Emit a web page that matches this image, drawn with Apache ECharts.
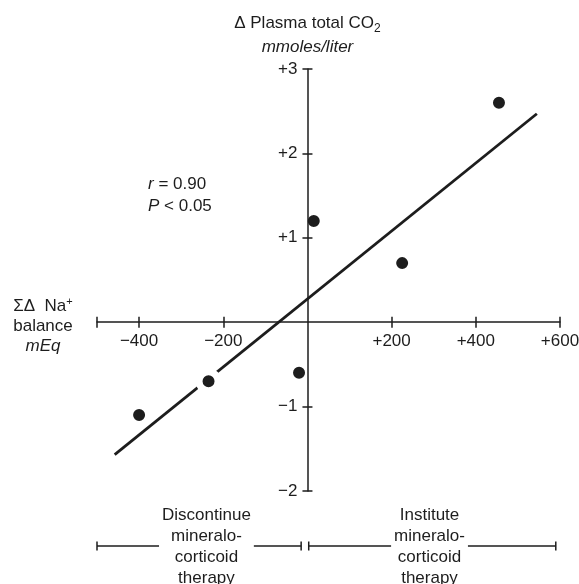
<!DOCTYPE html>
<html>
<head>
<meta charset="utf-8">
<script src="https://cdn.jsdelivr.net/npm/echarts@6/dist/echarts.min.js"></script>
<style>
  html, body { margin: 0; padding: 0; background: #fff; }
  #chart { width: 579px; height: 584px; }
</style>
</head>
<body>
<div id="chart"></div>
<script>
// Cumulative sodium balance (mEq) against change in plasma total CO2 (mmoles/liter)
const sodiumBalance = [-400, -235, -20, 15, 225, 455];
const plasmaCO2Change = [-1.1, -0.7, -0.6, 1.2, 0.7, 2.6];

// End points of the fitted regression line
const fitX = [-458, 545];
const fitY = [-1.57, 2.47];

// Axis extents, ticks and labelled values
const xRange = [-500, 600];
const yRange = [-2, 3];
const xTicks = [-500, -400, -200, 200, 400, 600];
const xTickLabels = [-400, -200, 200, 400, 600];
const yTicks = [-2, -1, 1, 2, 3];

// Therapy ranges along the sodium-balance axis (mEq)
const bracketStart = [-500, 3];
const bracketEnd = [-15, 590];
const bracketLabelAt = [-240, 290];
const bracketLabels = [
  'Discontinue\nmineralo-\ncorticoid\ntherapy',
  'Institute\nmineralo-\ncorticoid\ntherapy'
];

const statsText = '{i|r} = 0.90\n{i|P} < 0.05';

const ink = '#1d1d1d';
const fontFamily = '"Liberation Sans", Arial, sans-serif';
const fontSize = 17;

const signed = v => (v > 0 ? '+' + v : v < 0 ? '\u2212' + Math.abs(v) : '0');

const axisLineStyle = { color: ink, width: 1.5 };

const chart = echarts.init(document.getElementById('chart'));

function renderBracket(params, api) {
  const i = params.dataIndex;
  // brackets hang a fixed distance below the bottom of the vertical axis
  const y = api.coord([0, yRange[0]])[1] + 55;
  const x0 = api.coord([bracketStart[i], 0])[0];
  const x1 = api.coord([bracketEnd[i], 0])[0];
  const xc = api.coord([bracketLabelAt[i], 0])[0];
  const cap = 4.5;
  const st = { stroke: ink, lineWidth: 1.5 };
  return {
    type: 'group',
    children: [
      { type: 'line', shape: { x1: x0, y1: y, x2: x1, y2: y }, style: st },
      { type: 'line', shape: { x1: x0, y1: y - cap, x2: x0, y2: y + cap }, style: st },
      { type: 'line', shape: { x1: x1, y1: y - cap, x2: x1, y2: y + cap }, style: st },
      {
        type: 'text', x: xc, y: y + 1,
        style: {
          text: bracketLabels[i], align: 'center', verticalAlign: 'middle',
          font: fontSize + 'px ' + fontFamily, lineHeight: 21, fill: ink,
          backgroundColor: '#fff', padding: [0, 3]
        }
      }
    ]
  };
}

const richBase = { fontSize: fontSize, color: ink, fontFamily: fontFamily };

const option = {
  backgroundColor: '#fff',
  animation: false,
  textStyle: { fontFamily: fontFamily, color: ink },
  grid: { left: 97, right: 19, top: 69, bottom: 93, outerBoundsMode: 'none' },
  xAxis: [
    {
      type: 'value', min: xRange[0], max: xRange[1], position: 'bottom', z: 5,
      axisLine: { onZero: false, lineStyle: axisLineStyle },
      axisTick: { customValues: xTicks, length: 5.5, lineStyle: axisLineStyle },
      axisLabel: {
        customValues: xTickLabels, formatter: signed, margin: 11,
        color: ink, fontSize: fontSize, fontFamily: fontFamily
      },
      splitLine: { show: false },
      name: '{a|\u03a3\u0394  Na}{sup|+}\n{a|balance}\n{i|mEq}',
      nameLocation: 'start',
      nameGap: 54,
      nameTextStyle: {
        align: 'center', verticalAlign: 'middle', padding: [8, 0, 0, 0],
        rich: {
          a: Object.assign({ lineHeight: 20 }, richBase),
          sup: Object.assign({}, richBase, { fontSize: 11, lineHeight: 12, verticalAlign: 'top' }),
          i: Object.assign({ lineHeight: 20, fontStyle: 'italic' }, richBase)
        }
      }
    },
    {
      type: 'value', min: xRange[0], max: xRange[1], position: 'bottom', z: 5,
      axisLine: { show: false, onZero: false },
      axisTick: { inside: true, customValues: xTicks, length: 5.5, lineStyle: axisLineStyle },
      axisLabel: { show: false },
      splitLine: { show: false }
    }
  ],
  yAxis: [
    {
      type: 'value', min: yRange[0], max: yRange[1], position: 'left', z: 5,
      axisLine: { onZero: false, lineStyle: axisLineStyle },
      axisTick: { customValues: yTicks, length: 5, lineStyle: axisLineStyle },
      axisLabel: {
        customValues: yTicks, formatter: signed, margin: 10,
        color: ink, fontSize: fontSize, fontFamily: fontFamily
      },
      splitLine: { show: false },
      name: '{a|\u0394 Plasma total CO}{sub|2}\n{i|mmoles/liter}',
      nameLocation: 'end',
      nameGap: 10,
      nameTextStyle: {
        align: 'center', verticalAlign: 'bottom',
        rich: {
          a: Object.assign({ lineHeight: 24 }, richBase),
          sub: Object.assign({}, richBase, { fontSize: 12, lineHeight: 13, verticalAlign: 'bottom' }),
          i: Object.assign({ lineHeight: 24, fontStyle: 'italic' }, richBase)
        }
      }
    },
    {
      type: 'value', min: yRange[0], max: yRange[1], position: 'left', z: 5,
      axisLine: { show: false, onZero: false },
      axisTick: { inside: true, customValues: yTicks, length: 5, lineStyle: axisLineStyle },
      axisLabel: { show: false },
      splitLine: { show: false }
    }
  ],
  graphic: [
    {
      type: 'text', left: 148, top: 173,
      style: {
        text: statsText, fill: ink, font: fontSize + 'px ' + fontFamily, lineHeight: 22,
        rich: { i: Object.assign({ fontStyle: 'italic', lineHeight: 22 }, richBase) }
      }
    }
  ],
  series: [
    {
      type: 'line', name: 'fit', z: 2, silent: true,
      data: fitX.map((x, i) => [x, fitY[i]]),
      showSymbol: false, symbol: 'none',
      lineStyle: { color: ink, width: 2.8 }
    },
    {
      type: 'scatter', name: 'patients', z: 3, silent: true,
      data: sodiumBalance.map((x, i) => [x, plasmaCO2Change[i]]),
      symbol: 'circle', symbolSize: 19,
      itemStyle: { color: ink, borderColor: '#fff', borderWidth: 7, opacity: 1 }
    },
    {
      type: 'custom', name: 'therapy', z: 4, silent: true, clip: false,
      data: bracketStart.map((s, i) => [s, bracketEnd[i]]),
      renderItem: renderBracket
    }
  ]
};

chart.setOption(option);

// Move both axes so that they cross at the origin (labels and ticks follow the shift)
const yZeroPx = chart.convertToPixel({ yAxisIndex: 0 }, 0);
const yMinPx = chart.convertToPixel({ yAxisIndex: 0 }, yRange[0]);
const xZeroPx = chart.convertToPixel({ xAxisIndex: 0 }, 0);
const xMinPx = chart.convertToPixel({ xAxisIndex: 0 }, xRange[0]);
const xAxisOffset = -(yMinPx - yZeroPx);
const yAxisOffset = -(xZeroPx - xMinPx);
chart.setOption({
  xAxis: [{ offset: xAxisOffset }, { offset: xAxisOffset }],
  yAxis: [{ offset: yAxisOffset }, { offset: yAxisOffset }]
});
</script>
</body>
</html>
